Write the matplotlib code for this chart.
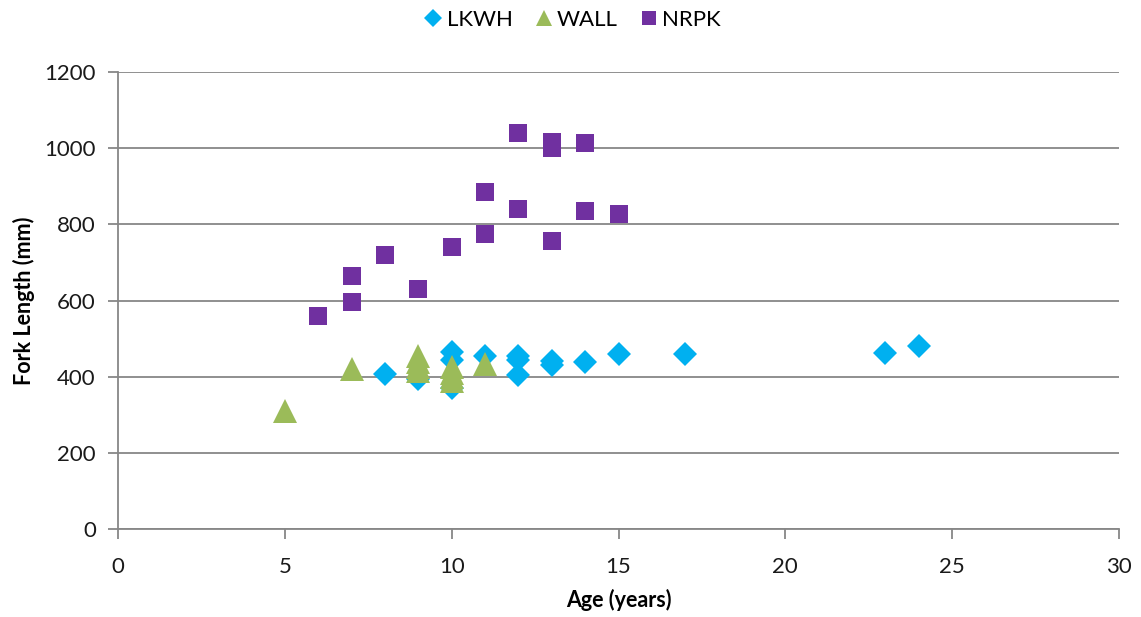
import matplotlib
matplotlib.use("Agg")
import matplotlib.pyplot as plt
from matplotlib.lines import Line2D

# Data (age in years, fork length in mm)
lkwh_age = [8, 9, 10, 10, 10, 11, 12, 12, 12, 13, 13, 14, 15, 17, 23, 24]
lkwh_len = [407, 393, 465, 445, 370, 455, 455, 445, 405, 440, 430, 439, 459, 459, 462, 480]

wall_age = [5, 7, 9, 9, 9, 9, 10, 10, 10, 10, 11]
wall_len = [310, 420, 455, 438, 425, 415, 425, 410, 398, 388, 432]

nrpk_age = [6, 7, 7, 8, 9, 10, 11, 11, 12, 12, 13, 13, 13, 14, 14, 15]
nrpk_len = [560, 665, 595, 720, 630, 740, 886, 775, 1040, 840, 1015, 1000, 755, 1014, 835, 826]

series_names = ["LKWH", "WALL", "NRPK"]
colors = ["#00B0F0", "#9BBB59", "#7030A0"]

plt.rcParams['font.family'] = ['Lato', 'DejaVu Sans']

fig = plt.figure(figsize=(11.41, 6.17), dpi=100)
ax = fig.add_axes([118/1141, 1-529/617, (1119-118)/1141, (529-72)/617])

ax.plot(lkwh_age, lkwh_len, linestyle='none', marker='D', markersize=12.5,
        color=colors[0], markeredgewidth=0, zorder=3)
ax.plot(wall_age, wall_len, linestyle='none', marker='^', markersize=17,
        color=colors[1], markeredgewidth=0, zorder=3)
ax.plot(nrpk_age, nrpk_len, linestyle='none', marker='s', markersize=13.5,
        color=colors[2], markeredgewidth=0, zorder=3)

ax.set_xlim(0, 30)
ax.set_ylim(0, 1200)
ax.set_xticks(range(0, 31, 5))
ax.set_yticks(range(0, 1201, 200))
ax.yaxis.grid(True, color='#878787', linewidth=1.3)
ax.set_axisbelow(True)
for s in ['top', 'right']:
    ax.spines[s].set_visible(False)
for s in ['left', 'bottom']:
    ax.spines[s].set_color('#878787')
    ax.spines[s].set_linewidth(1.3)
ax.tick_params(axis='both', colors='#878787', labelcolor='#1a1a1a',
               labelsize=16, length=7, width=1.3)
ax.tick_params(axis='y', pad=9)
ax.tick_params(axis='x', pad=13)

ax.set_xlabel("Age (years)", fontsize=15.5, fontweight='bold', labelpad=9)
ax.set_ylabel("Fork Length (mm)", fontsize=15.5, fontweight='bold', labelpad=7)

handles = [
    Line2D([], [], linestyle='none', marker='D', markersize=9, color=colors[0], markeredgewidth=0),
    Line2D([], [], linestyle='none', marker='^', markersize=12, color=colors[1], markeredgewidth=0),
    Line2D([], [], linestyle='none', marker='s', markersize=10, color=colors[2], markeredgewidth=0),
]
fig.legend(handles, series_names, loc='center', bbox_to_anchor=(0.5, 1-20/617),
           ncol=3, frameon=False, fontsize=16, handletextpad=0.0, columnspacing=0.8,
           handlelength=1.2)

fig.savefig("out.png", dpi=100)
